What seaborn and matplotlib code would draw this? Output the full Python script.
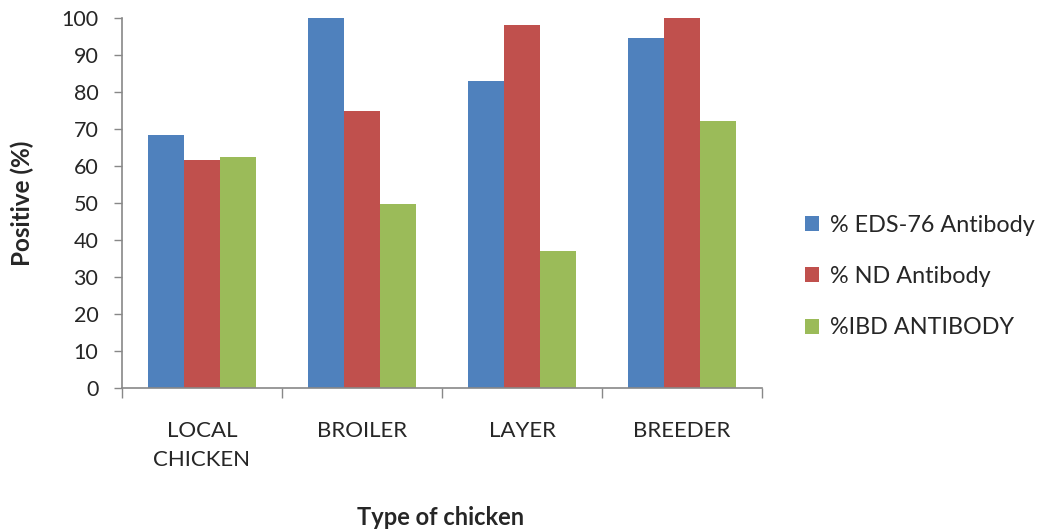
import matplotlib
matplotlib.use("Agg")
import matplotlib.pyplot as plt
import seaborn as sns
import pandas as pd
from matplotlib.patches import Patch

categories = ["LOCAL\nCHICKEN", "BROILER", "LAYER", "BREEDER"]
series_names = ["% EDS-76 Antibody", "% ND Antibody", "%IBD ANTIBODY"]
eds76 = [68.3, 100.0, 82.9, 94.5]
nd = [61.7, 74.8, 98.0, 100.0]
ibd = [62.3, 49.6, 36.9, 72.1]
colors = ["#4F81BD", "#C0504D", "#9BBB59"]

df = pd.DataFrame({
    "category": categories * 3,
    "series": [series_names[0]] * 4 + [series_names[1]] * 4 + [series_names[2]] * 4,
    "value": eds76 + nd + ibd,
})

sns.set_style("white")
plt.rcParams["font.family"] = ["Lato", "DejaVu Sans"]

fig = plt.figure(figsize=(10.4, 5.31), dpi=100)
ax = fig.add_axes([0.1173, 0.2693, 0.6154, 0.6968])

sns.barplot(data=df, x="category", y="value", hue="series", order=categories,
            hue_order=series_names, palette=colors, width=0.67, saturation=1,
            linewidth=0, errorbar=None, ax=ax, legend=False)

ax.set_xlim(-0.5, 3.5)
ax.set_ylim(0, 100)
ax.set_yticks(range(0, 101, 10))
ax.tick_params(axis="y", which="major", length=6, width=1, color="#888888",
               labelsize=15.5, pad=11, left=True)
ax.set_xticks(range(4))
ax.set_xticklabels(categories, fontsize=16, linespacing=1.55)
ax.tick_params(axis="x", which="major", length=0, pad=24)
ax.set_xticks([-0.5, 0.5, 1.5, 2.5, 3.5], minor=True)
ax.tick_params(axis="x", which="minor", length=7, width=1, color="#888888",
               direction="out", bottom=True)

for side in ("top", "right"):
    ax.spines[side].set_visible(False)
for side in ("left", "bottom"):
    ax.spines[side].set_color("#888888")
    ax.spines[side].set_linewidth(1.2)

ax.set_ylabel("")
ax.set_xlabel("")
fig.text(0.021, 0.618, "Positive (%)", fontsize=17.5, fontweight="bold",
         rotation=90, ha="center", va="center")
fig.text(0.424, 0.026, "Type of chicken", fontsize=17, fontweight="bold",
         ha="center", va="center")

handles = [Patch(facecolor=c, edgecolor="none") for c in colors]
fig.legend(handles, series_names, loc="center left", bbox_to_anchor=(0.774, 0.479),
           frameon=False, fontsize=16.8, handlelength=0.62, handleheight=0.62,
           handletextpad=0.45, labelspacing=1.3, borderaxespad=0, borderpad=0)

fig.savefig("out.png", dpi=100)
